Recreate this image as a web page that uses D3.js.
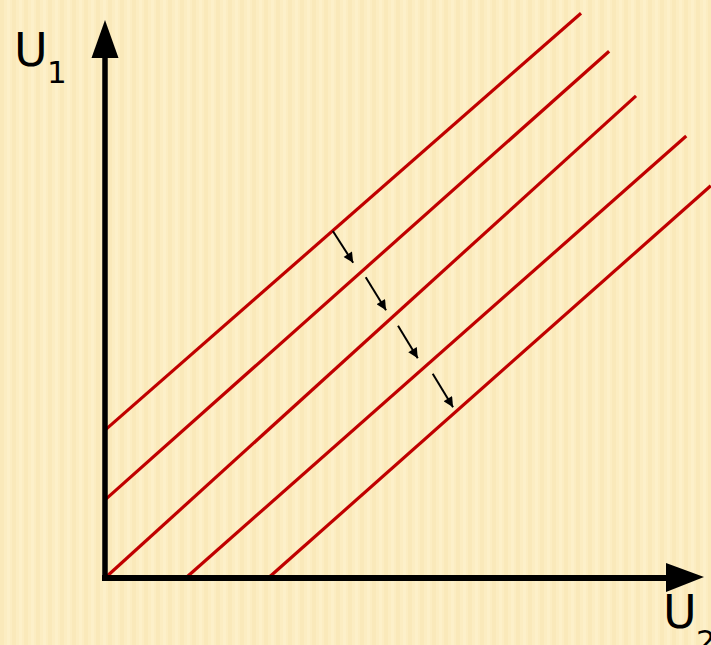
<!DOCTYPE html>
<html><head><meta charset="utf-8">
<script src="https://cdn.jsdelivr.net/npm/d3@7"></script>
<style>html,body{margin:0;padding:0;overflow:hidden;background:#FCEDC2;}</style>
</head><body>
<svg id="c" width="711" height="645"></svg>
<script>
// Data (in axis units)
const lineStarts = [[0, 2.65], [0, 1.40], [0, 0], [1.35, 0], [2.73, 0]];
const lineEnds   = [[7.96, 10.12], [8.43, 9.44], [8.88, 8.64], [9.72, 7.92], [10.13, 7.03]];
const arrowStarts = [[3.81, 6.22], [4.36, 5.39], [4.90, 4.52], [5.48, 3.66]];
const arrowEnds   = [[4.15, 5.65], [4.70, 4.80], [5.23, 3.94], [5.82, 3.06]];
const axisLabels = ["U", "U"];
const axisSubs = ["1", "2"];

const svg = d3.select("#c");
const x = d3.scaleLinear().domain([0, 10]).range([105, 703]);
const y = d3.scaleLinear().domain([0, 10]).range([578, 20]);

// background with faint vertical stripes
const defs = svg.append("defs");
const pat = defs.append("pattern").attr("id", "bg").attr("width", 12).attr("height", 12)
  .attr("patternUnits", "userSpaceOnUse");
pat.append("rect").attr("width", 12).attr("height", 12).attr("fill", "#FCEDC2");
pat.append("rect").attr("x", 0).attr("width", 4).attr("height", 12).attr("fill", "#FAE9BA");
pat.append("rect").attr("x", 7).attr("width", 3).attr("height", 12).attr("fill", "#FDF0C9");
svg.append("rect").attr("width", 711).attr("height", 645).attr("fill", "url(#bg)");

defs.append("marker").attr("id", "ah").attr("viewBox", "0 0 10 10")
  .attr("refX", 10).attr("refY", 5).attr("markerWidth", 6).attr("markerHeight", 5)
  .attr("markerUnits", "strokeWidth").attr("orient", "auto")
  .append("path").attr("d", "M0,0 L10,5 L0,10 Z").attr("fill", "#000");

// red lines
svg.append("g").selectAll("line").data(lineStarts).join("line")
  .attr("x1", d => x(d[0])).attr("y1", d => y(d[1]))
  .attr("x2", (d, i) => x(lineEnds[i][0])).attr("y2", (d, i) => y(lineEnds[i][1]))
  .attr("stroke", "#C00000").attr("stroke-width", 3.2).attr("stroke-linecap", "butt");

// axes (no ticks)
const gx = svg.append("g").attr("transform", `translate(0,${y(0)})`)
  .call(d3.axisBottom(x).tickValues([]).tickSizeOuter(0));
const gy = svg.append("g").attr("transform", `translate(${x(0)},0)`)
  .call(d3.axisLeft(y).tickValues([]).tickSizeOuter(0));
gx.select(".domain").attr("stroke", "#000").attr("stroke-width", 6)
  .attr("d", `M${x(0) - 3},0H${x(10) - 30}`);
gy.select(".domain").attr("stroke", "#000").attr("stroke-width", 5.5)
  .attr("d", `M0,${y(0) + 3}V${y(10) + 30}`);

// axis arrowheads
svg.append("path").attr("fill", "#000")
  .attr("d", `M${x(0)},${y(10)} L${x(0) + 13.5},${y(10) + 38} L${x(0) - 13.5},${y(10) + 38} Z`);
svg.append("path").attr("fill", "#000")
  .attr("d", `M${x(10) + 1},${y(0) - 1} L${x(10) - 37},${y(0) - 15} L${x(10) - 37},${y(0) + 14} Z`);

// small arrows
svg.append("g").selectAll("line").data(arrowStarts).join("line")
  .attr("x1", d => x(d[0])).attr("y1", d => y(d[1]))
  .attr("x2", (d, i) => x(arrowEnds[i][0])).attr("y2", (d, i) => y(arrowEnds[i][1]))
  .attr("stroke", "#000").attr("stroke-width", 2).attr("marker-end", "url(#ah)");

// labels
const font = "'DejaVu Sans', Verdana, sans-serif";
const lab = [[14, 66, 47, 83], [663, 628, 696, 652]];
lab.forEach((p, i) => {
  svg.append("text").attr("x", p[0]).attr("y", p[1]).attr("font-family", font)
    .attr("font-size", 46).attr("fill", "#000").text(axisLabels[i]);
  svg.append("text").attr("x", p[2]).attr("y", p[3]).attr("font-family", font)
    .attr("font-size", 31).attr("fill", "#000").text(axisSubs[i]);
});
</script>
</body></html>
